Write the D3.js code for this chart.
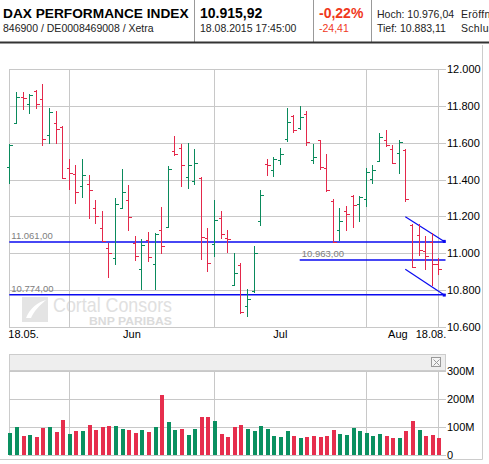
<!DOCTYPE html>
<html>
<head>
<meta charset="utf-8">
<script src="https://cdn.jsdelivr.net/npm/d3@7"></script>
<style>
  body { margin: 0; background: #fff; }
  svg { display: block; font-family: Arial, "Liberation Sans", sans-serif; }
</style>
</head>
<body>
<svg id="chart" width="489" height="464"></svg>
<script>
// trading days, 18.05.2015 - 18.08.2015 (Xetra)
const dates = [
  '2015-05-18','2015-05-19','2015-05-20','2015-05-21','2015-05-22','2015-05-26','2015-05-27','2015-05-28','2015-05-29',
  '2015-06-01','2015-06-02','2015-06-03','2015-06-04','2015-06-05','2015-06-08','2015-06-09','2015-06-10','2015-06-11',
  '2015-06-12','2015-06-15','2015-06-16','2015-06-17','2015-06-18','2015-06-19','2015-06-22','2015-06-23','2015-06-24',
  '2015-06-25','2015-06-26','2015-06-29','2015-06-30',
  '2015-07-01','2015-07-02','2015-07-03','2015-07-06','2015-07-07','2015-07-08','2015-07-09','2015-07-10','2015-07-13',
  '2015-07-14','2015-07-15','2015-07-16','2015-07-17','2015-07-20','2015-07-21','2015-07-22','2015-07-23','2015-07-24',
  '2015-07-27','2015-07-28','2015-07-29','2015-07-30','2015-07-31',
  '2015-08-03','2015-08-04','2015-08-05','2015-08-06','2015-08-07','2015-08-10','2015-08-11','2015-08-12','2015-08-13',
  '2015-08-14','2015-08-17','2015-08-18'
];
const open = [11469,11706,11852,11811,11883,11838,11643,11708,11685,11463,11429,11364,11377,11243,11135,11027,10973,11243,11288,11054,10915,11072,10941,11126,11142,11553,11571,11414,11391,11409,11081,11050,11189,11081,10829,10937,10715,10793,11175,11486,11454,11504,11622,11744,11679,11757,11508,11613,11463,11283,11126,11229,11310,11270,11297,11405,11503,11613,11564,11546,11559,11153,11099,11013,11058,10940];
const high = [11595,11874,11874,11865,11885,11921,11789,11771,11694,11510,11481,11514,11423,11288,11229,11054,11301,11456,11369,11094,11077,11117,11108,11252,11472,11636,11595,11598,11564,11414,11139,11288,11231,11126,11000,10946,10805,11040,11342,11510,11522,11571,11787,11751,11802,11775,11591,11616,11540,11297,11247,11256,11315,11310,11463,11478,11654,11672,11586,11616,11564,11157,11157,11096,11112,10976];
const low = [11378,11703,11778,11757,11784,11582,11593,11595,11405,11342,11267,11301,11186,11157,11063,10865,10937,11238,11122,10955,10798,10950,10802,10996,11139,11526,11360,11348,11369,10964,10896,10977,11077,11000,10825,10667,10654,10784,11150,11420,11414,11478,11604,11654,11672,11582,11483,11450,11333,11054,11068,11122,11139,11171,11249,11378,11499,11577,11487,11429,11279,10919,10982,10910,10820,10883];
const close = [11590,11847,11845,11862,11811,11623,11766,11676,11409,11438,11330,11423,11342,11204,11067,11000,11267,11335,11195,10982,11045,10978,11104,11041,11460,11540,11478,11481,11492,11087,10946,11180,11104,11077,10892,10681,10753,11000,11315,11478,11514,11540,11715,11672,11739,11604,11522,11469,11342,11058,11177,11213,11261,11306,11441,11454,11634,11586,11492,11604,11292,10924,11018,10986,10940,10916];
// volume in millions
const volume = [80,100,70,73,66,97,100,83,126,77,87,87,108,90,100,104,104,93,90,80,90,83,100,215,118,90,93,73,93,137,137,122,77,66,100,108,93,87,104,93,70,66,87,70,62,66,70,66,70,90,77,73,97,87,80,70,77,70,62,62,87,122,90,70,73,62];

const priceTicks = [10600, 10800, 11000, 11200, 11400, 11600, 11800, 12000];
const volumeTicks = [0, 100, 200, 300];
const xLabels = ['18.05.', 'Jun', 'Jul', 'Aug', '18.08.'];
const xLabelAt = [0, 18.5, 41, 58.8, 65];

// drawn levels and the falling channel
const levelValues = [11061, 10774, 10963];
const levelStart = [null, null, 44];
const channelStart = [60, 65.9];
const channelUpper = [11198, 11064];
const channelLower = [10912, 10772];

const header = {
  name: 'DAX PERFORMANCE INDEX',
  ids: '846900 / DE0008469008 / Xetra',
  last: '10.915,92',
  time: '18.08.2015 17:45:00',
  pct: '-0,22%',
  diff: '-24,41',
  hi: 'Hoch: 10.976,04',
  lo: 'Tief: 10.883,11',
  op: 'Eröffnung: 10.940,33',
  prev: 'Schluss Vortag: 10.940,33'
};

const red = '#e4284a', green = '#0a8a5c', grid = '#c8c8c8', blue = '#0a0af0';
const de = d3.formatLocale({ decimal: ',', thousands: '.', grouping: [3], currency: ['', ' €'] });
const fmtInt = de.format(',.0f');
const fmtLevel = de.format(',.2f');

const svg = d3.select('#chart');
const plotL = 9.3, plotR = 445.5;

const x = d3.scaleLinear().domain([0, dates.length - 1]).range([9.3, 438.3]);
const y = d3.scaleLinear().domain([10600, 12000]).range([326.7, 69.3]);
const yv = d3.scaleLinear().domain([0, 300]).range([455.3, 370.7]);
const px = v => Math.round(v) + 0.5;

// ---- header
const head = svg.append('g');
head.append('text').attr('x', 3).attr('y', 18).attr('font-size', 13.7).attr('font-weight', 'bold').text(header.name);
head.append('text').attr('x', 3).attr('y', 32).attr('font-size', 10.5).attr('fill', '#222').text(header.ids);
head.append('text').attr('x', 200).attr('y', 18).attr('font-size', 14).attr('font-weight', 'bold').text(header.last);
head.append('text').attr('x', 200).attr('y', 32).attr('font-size', 10.5).attr('fill', '#222').text(header.time);
head.append('text').attr('x', 319).attr('y', 18).attr('font-size', 14).attr('font-weight', 'bold').attr('fill', '#f0381c').text(header.pct);
head.append('text').attr('x', 319).attr('y', 32).attr('font-size', 10.5).attr('fill', '#f0381c').text(header.diff);
head.append('text').attr('x', 377).attr('y', 18).attr('font-size', 10.5).attr('fill', '#222').text(header.hi);
head.append('text').attr('x', 377).attr('y', 32).attr('font-size', 10.5).attr('fill', '#222').text(header.lo);
head.append('text').attr('x', 461).attr('y', 18).attr('font-size', 10.5).attr('fill', '#222').attr('letter-spacing', 0.3).text(header.op);
head.append('text').attr('x', 461).attr('y', 32).attr('font-size', 10.5).attr('fill', '#222').attr('letter-spacing', 0.3).text(header.prev);
[194.5, 313.5, 371.5].forEach(sx => {
  head.append('line').attr('x1', sx).attr('x2', sx).attr('y1', 0).attr('y2', 42).attr('stroke', '#999');
});
head.append('line').attr('x1', 0).attr('x2', 489).attr('y1', 42.5).attr('y2', 42.5).attr('stroke', '#333').attr('stroke-width', 2);

// outer frame of the chart box
svg.append('path').attr('d', 'M482.5,45V459.5H0').attr('fill', 'none').attr('stroke', '#ccc');

// ---- watermark
const wm = svg.append('g').attr('opacity', 0.9);
wm.append('rect').attr('x', 22).attr('y', 297).attr('width', 26).attr('height', 25).attr('fill', '#e2e2e2');
wm.append('path').attr('d', 'M26,318 C30,308 38,302 46,300 C40,305 34,311 31,318 Z').attr('fill', '#fff');
wm.append('text').attr('x', 53).attr('y', 312).attr('font-size', 21).attr('fill', '#dddddd')
  .attr('textLength', 119).attr('lengthAdjust', 'spacingAndGlyphs').text('Cortal Consors');
wm.append('text').attr('x', 89).attr('y', 325).attr('font-size', 10.5).attr('font-weight', 'bold').attr('fill', '#d8d8d8')
  .attr('textLength', 83).attr('lengthAdjust', 'spacingAndGlyphs').text('BNP PARIBAS');

// ---- price panel grid
const monthStarts = dates.map((d, i) => i).filter(i => i === 0 || i === dates.length - 1 || dates[i].slice(5, 7) !== dates[i - 1].slice(5, 7));

const pg = svg.append('g').attr('shape-rendering', 'crispEdges');
pg.selectAll('line.h').data(priceTicks).join('line').attr('class', 'h')
  .attr('x1', plotL).attr('x2', plotR).attr('y1', d => px(y(d))).attr('y2', d => px(y(d)))
  .attr('stroke', grid);
pg.selectAll('line.v').data(monthStarts).join('line').attr('class', 'v')
  .attr('x1', d => px(x(d))).attr('x2', d => px(x(d))).attr('y1', px(y(12000))).attr('y2', px(y(10600)))
  .attr('stroke', grid);

// price axis (right)
const yAxis = svg.append('g').attr('transform', `translate(${plotR},0)`)
  .call(d3.axisRight(y).tickValues(priceTicks).tickSize(0).tickPadding(1.5).tickFormat(fmtInt));
yAxis.select('.domain').remove();
yAxis.selectAll('text').attr('font-size', 11).attr('font-family', 'Arial, "Liberation Sans", sans-serif').attr('fill', '#000');

// time axis
const xAxis = svg.append('g').attr('transform', `translate(0,${y(10600)})`)
  .call(d3.axisBottom(x).tickValues(xLabelAt).tickSize(0).tickPadding(4).tickFormat((d, i) => xLabels[i]));
xAxis.select('.domain').remove();
xAxis.selectAll('text').attr('font-size', 11).attr('font-family', 'Arial, "Liberation Sans", sans-serif').attr('fill', '#000')
  .attr('text-anchor', (d, i) => i === 0 ? 'start' : (i === xLabels.length - 1 ? 'end' : 'middle'))
  .attr('dx', (d, i) => i === 0 ? -1.5 : (i === xLabels.length - 1 ? 7.5 : 0));

// ---- horizontal levels
const lv = svg.append('g');
levelValues.forEach((v, k) => {
  const x0 = levelStart[k] === null ? plotL : x(levelStart[k]);
  lv.append('line').attr('x1', x0).attr('x2', plotR).attr('y1', y(v)).attr('y2', y(v))
    .attr('stroke', blue).attr('stroke-width', 1.4);
  lv.append('text').attr('x', x0 + 2).attr('y', y(v) - 2.5).attr('font-size', 9.5).attr('fill', '#808080')
    .text(fmtLevel(v));
});
[channelUpper, channelLower].forEach(c => {
  lv.append('line').attr('x1', x(channelStart[0])).attr('x2', x(channelStart[1]))
    .attr('y1', y(c[0])).attr('y2', y(c[1])).attr('stroke', blue).attr('stroke-width', 1.2);
  lv.append('rect').attr('x', x(channelStart[1]) - 1.5).attr('y', y(c[1]) - 1.5).attr('width', 3).attr('height', 3).attr('fill', blue);
});

// ---- OHLC bars
const bars = svg.append('g').attr('shape-rendering', 'crispEdges');
const ohlc = dates.map((d, i) => ({ i, o: open[i], h: high[i], l: low[i], c: close[i] }));
const bar = bars.selectAll('g').data(ohlc).join('g')
  .attr('stroke', d => d.c >= d.o ? green : red).attr('stroke-width', 1.5);
bar.append('line').attr('x1', d => px(x(d.i))).attr('x2', d => px(x(d.i))).attr('y1', d => y(d.h)).attr('y2', d => y(d.l));
bar.append('line').attr('x1', d => px(x(d.i)) - 3).attr('x2', d => px(x(d.i))).attr('y1', d => px(y(d.o))).attr('y2', d => px(y(d.o)));
bar.append('line').attr('x1', d => px(x(d.i))).attr('x2', d => px(x(d.i)) + 3).attr('y1', d => px(y(d.c))).attr('y2', d => px(y(d.c)));

// ---- volume panel
const vp = svg.append('g').attr('shape-rendering', 'crispEdges');
vp.append('rect').attr('x', 9.5).attr('y', 354.5).attr('width', plotR - 9.5).attr('height', 16).attr('fill', '#eeeeee').attr('stroke', '#ccc');
vp.append('rect').attr('x', 431.5).attr('y', 357.5).attr('width', 9).attr('height', 9).attr('fill', '#f4f4f4').attr('stroke', '#999');
vp.append('path').attr('d', 'M433.5,359.5L439.5,365.5M439.5,359.5L433.5,365.5').attr('stroke', '#999').attr('shape-rendering', 'auto');
vp.append('line').attr('x1', 9.5).attr('x2', 9.5).attr('y1', 354.5).attr('y2', px(yv(0))).attr('stroke', '#ccc');
vp.selectAll('line.h').data(volumeTicks).join('line').attr('class', 'h')
  .attr('x1', plotL).attr('x2', plotR).attr('y1', d => px(yv(d))).attr('y2', d => px(yv(d))).attr('stroke', grid);
vp.selectAll('line.v').data(monthStarts.slice(1)).join('line').attr('class', 'v')
  .attr('x1', d => px(x(d))).attr('x2', d => px(x(d))).attr('y1', px(yv(300))).attr('y2', px(yv(0))).attr('stroke', grid);

const prevClose = i => i === 0 ? open[0] : close[i - 1];
vp.selectAll('rect.vol').data(volume).join('rect').attr('class', 'vol')
  .attr('x', (d, i) => Math.round(x(i)) - 1)
  .attr('width', 4)
  .attr('y', d => yv(d))
  .attr('height', d => yv(0) - yv(d))
  .attr('fill', (d, i) => close[i] >= prevClose(i) ? '#0a9060' : '#e62e4d');

const vAxis = svg.append('g').attr('transform', `translate(${plotR},0)`)
  .call(d3.axisRight(yv).tickValues(volumeTicks).tickSize(0).tickPadding(1.5).tickFormat(d => d ? d + 'M' : '0'));
vAxis.select('.domain').remove();
vAxis.selectAll('text').attr('font-size', 11).attr('font-family', 'Arial, "Liberation Sans", sans-serif').attr('fill', '#000');
</script>
</body>
</html>
